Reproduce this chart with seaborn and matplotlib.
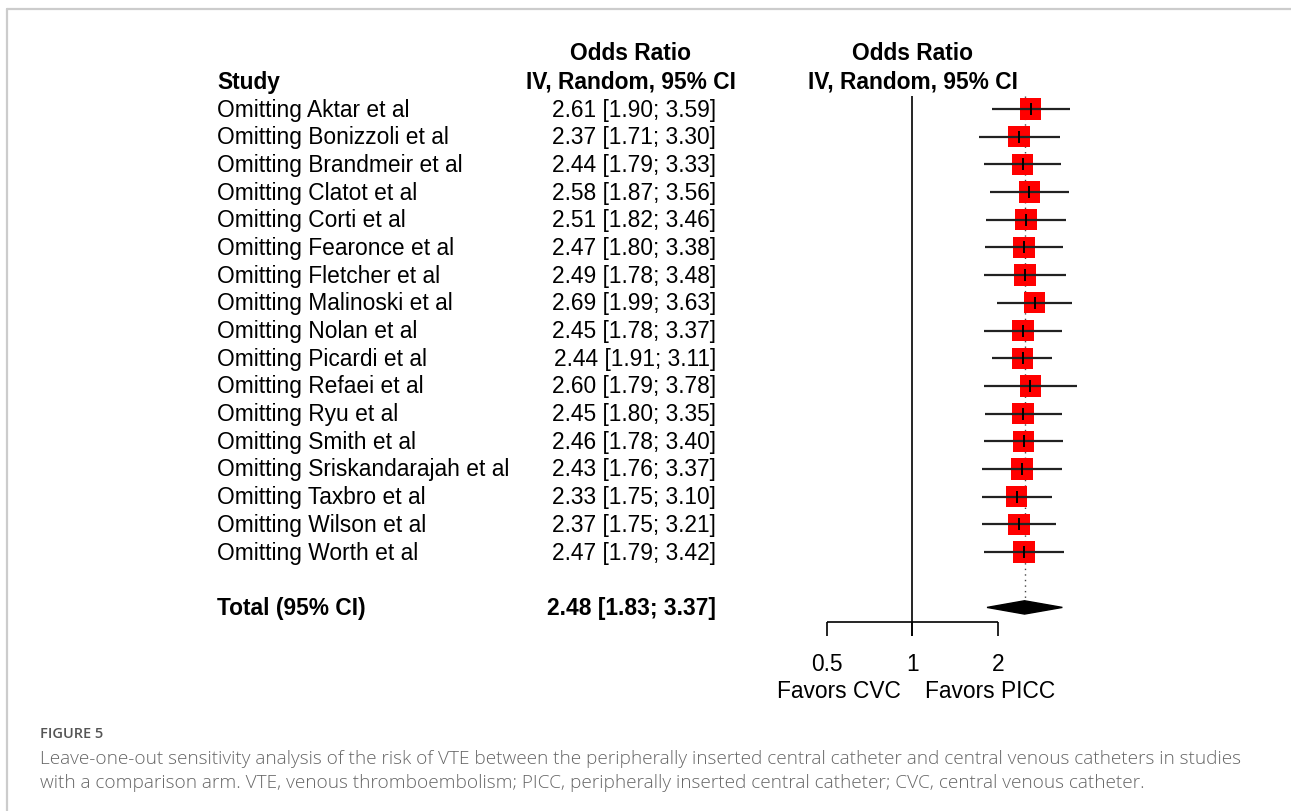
import numpy as np
import pandas as pd
import matplotlib
matplotlib.use("Agg")
import matplotlib.pyplot as plt
import matplotlib.transforms as mtransforms
from matplotlib.lines import Line2D
from matplotlib.patches import Polygon
import seaborn as sns

studies = ["Omitting Aktar et al", "Omitting Bonizzoli et al", "Omitting Brandmeir et al",
           "Omitting Clatot et al", "Omitting Corti et al", "Omitting Fearonce et al",
           "Omitting Fletcher et al", "Omitting Malinoski et al", "Omitting Nolan et al",
           "Omitting Picardi et al", "Omitting Refaei et al", "Omitting Ryu et al",
           "Omitting Smith et al", "Omitting Sriskandarajah et al", "Omitting Taxbro et al",
           "Omitting Wilson et al", "Omitting Worth et al"]
odds = [2.61, 2.37, 2.44, 2.58, 2.51, 2.47, 2.49, 2.69, 2.45, 2.44, 2.60, 2.45, 2.46, 2.43, 2.33, 2.37, 2.47]
lower = [1.90, 1.71, 1.79, 1.87, 1.82, 1.80, 1.78, 1.99, 1.78, 1.91, 1.79, 1.80, 1.78, 1.76, 1.75, 1.75, 1.79]
upper = [3.59, 3.30, 3.33, 3.56, 3.46, 3.38, 3.48, 3.63, 3.37, 3.11, 3.78, 3.35, 3.40, 3.37, 3.10, 3.21, 3.42]
total_label = "Total (95% CI)"
total_or, total_lo, total_hi = 2.48, 1.83, 3.37
xticks = [0.5, 1, 2]
xtick_labels = ["0.5", "1", "2"]

W, H = 1291, 812
sns.set_theme(style="white")
plt.rcParams["font.family"] = ["Liberation Sans", "DejaVu Sans"]
plt.rcParams["text.color"] = "black"

fig = plt.figure(figsize=(W / 100, H / 100), dpi=100)
ax = fig.add_axes([0, 0, 1, 1])
ax.set_axis_off()

# pixel mapping: row 0 at y=110, step 27.69 px ; log10 scale: 0.5 -> 827px, 2 -> 998px
ROW0, STEP = 110.0, 27.69
PPD = (998 - 827) / np.log10(4)  # pixels per decade
x_left = 10 ** (np.log10(0.5) - 827 / PPD)
x_right = 10 ** (np.log10(2) + (W - 998) / PPD)
ax.set_xscale("log")
ax.set_xlim(x_left, x_right)
ax.set_ylim((H - ROW0) / STEP, -ROW0 / STEP)

def py(px):
    return (px - ROW0) / STEP

blend = mtransforms.blended_transform_factory(fig.transFigure, ax.transData)
def fx(px):
    return px / W

df = pd.DataFrame({"study": studies, "or": odds, "lo": lower, "hi": upper})
df["row"] = np.arange(len(df))
total_row = len(df) + 1

FS = 16.4
# headers
ax.text(fx(217), py(82), "Study", transform=blend, ha="left", va="center", fontsize=FS, fontweight="bold")
ax.text(fx(631), py(54), "Odds Ratio", transform=blend, ha="center", va="center", fontsize=FS, fontweight="bold")
ax.text(fx(631), py(82), "IV, Random, 95% CI", transform=blend, ha="center", va="center", fontsize=FS, fontweight="bold")
ax.text(fx(912.5), py(54), "Odds Ratio", transform=blend, ha="center", va="center", fontsize=FS, fontweight="bold")
ax.text(fx(912.5), py(82), "IV, Random, 95% CI", transform=blend, ha="center", va="center", fontsize=FS, fontweight="bold")

for _, r in df.iterrows():
    ax.text(fx(217), r["row"], r["study"], transform=blend, ha="left", va="center", fontsize=FS)
    ax.text(fx(716), r["row"], f"{r['or']:.2f} [{r['lo']:.2f}; {r['hi']:.2f}]", transform=blend,
            ha="right", va="center", fontsize=FS)
ax.text(fx(217), total_row, total_label, transform=blend, ha="left", va="center", fontsize=FS, fontweight="bold")
ax.text(fx(716), total_row, f"{total_or:.2f} [{total_lo:.2f}; {total_hi:.2f}]", transform=blend,
        ha="right", va="center", fontsize=FS, fontweight="bold")

# reference line at 1 and dotted at total
ax.vlines(1, py(97), py(637), color="black", lw=1.2, zorder=1)
ax.vlines(total_or, py(97), total_row - 0.25, color="#444444", lw=1.0, linestyles=(0, (1, 3)), zorder=1)

# CI lines
ax.hlines(df["row"], df["lo"], df["hi"], color="#222222", lw=1.6, zorder=3)
# squares
sns.scatterplot(data=df, x="or", y="row", marker="s", s=235, color="#FF0000", edgecolor="none",
                ax=ax, zorder=2, legend=False)
# point tick
sns.scatterplot(data=df, x="or", y="row", marker="|", s=70, color="black", linewidth=1.4,
                ax=ax, zorder=4, legend=False)
ax.set_xlabel("")
ax.set_ylabel("")
ax.set_axis_off()

# diamond
dh = 0.24
diamond = Polygon([[total_lo, total_row], [total_or, total_row - dh], [total_hi, total_row],
                   [total_or, total_row + dh]], closed=True, facecolor="black", edgecolor="black", zorder=3)
ax.add_patch(diamond)

# x axis
ax.hlines(py(623), xticks[0], xticks[-1], color="black", lw=1.2)
for t, lab in zip(xticks, xtick_labels):
    ax.vlines(t, py(623), py(637), color="black", lw=1.2)
    ax.text(t, py(665), lab, ha="center", va="center", fontsize=FS)
ax.text(fx(901), py(692), "Favors CVC", transform=blend, ha="right", va="center", fontsize=FS)
ax.text(fx(925), py(692), "Favors PICC", transform=blend, ha="left", va="center", fontsize=FS)

# frame
fig.add_artist(Line2D([fx(7), 1], [1 - 10 / H, 1 - 10 / H], transform=fig.transFigure, color="#cccccc", lw=1.6))
fig.add_artist(Line2D([fx(7), fx(7)], [0, 1 - 10 / H], transform=fig.transFigure, color="#cccccc", lw=1.6))

# caption
CAP = ["Open Sans", "DejaVu Sans"]
fig.text(fx(40), 1 - 734 / H, "FIGURE 5", ha="left", va="center", fontsize=10.5, color="#555555",
         family=CAP, fontweight="semibold")
fig.text(fx(40), 1 - 759 / H,
         "Leave-one-out sensitivity analysis of the risk of VTE between the peripherally inserted central catheter and central venous catheters in studies",
         ha="left", va="center", fontsize=13.65, color="#666666", family=CAP, fontweight="light")
fig.text(fx(40), 1 - 783 / H,
         "with a comparison arm. VTE, venous thromboembolism; PICC, peripherally inserted central catheter; CVC, central venous catheter.",
         ha="left", va="center", fontsize=13.65, color="#666666", family=CAP, fontweight="light")

fig.savefig("out.png", dpi=100)
